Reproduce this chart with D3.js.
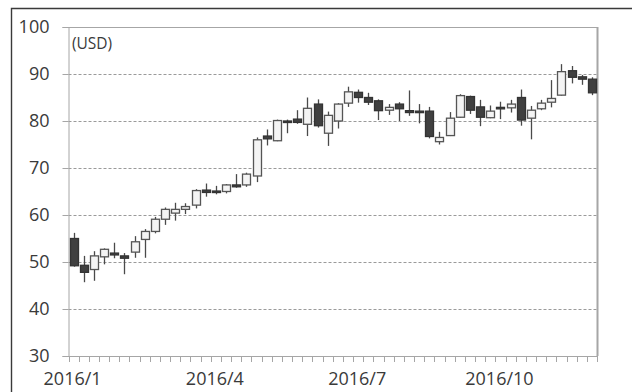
<!DOCTYPE html>
<html>
<head>
<meta charset="utf-8">
<script src="https://cdn.jsdelivr.net/npm/d3@7"></script>
<style>
  html, body { margin: 0; padding: 0; background: #fff; }
  svg { display: block; }
  text { font-family: "Open Sans", "Noto Sans", sans-serif; fill: #3a3a3a; }
</style>
</head>
<body>
<svg id="chart" width="632" height="392"></svg>
<script>
// Weekly candles, 2016 (week starting dates)
const weeks = [
  "2016/01/04","2016/01/11","2016/01/18","2016/01/25",
  "2016/02/01","2016/02/08","2016/02/15","2016/02/22","2016/02/29",
  "2016/03/07","2016/03/14","2016/03/21","2016/03/28",
  "2016/04/04","2016/04/11","2016/04/18","2016/04/25",
  "2016/05/02","2016/05/09","2016/05/16","2016/05/23","2016/05/30",
  "2016/06/06","2016/06/13","2016/06/20","2016/06/27",
  "2016/07/04","2016/07/11","2016/07/18","2016/07/25",
  "2016/08/01","2016/08/08","2016/08/15","2016/08/22","2016/08/29",
  "2016/09/05","2016/09/12","2016/09/19","2016/09/26",
  "2016/10/03","2016/10/10","2016/10/17","2016/10/24","2016/10/31",
  "2016/11/07","2016/11/14","2016/11/21","2016/11/28",
  "2016/12/05","2016/12/12","2016/12/19","2016/12/26"
];

const openPrices = [
  55.0, 49.3, 48.4, 51.1, 51.9, 51.3, 52.1, 54.8, 56.5, 59.1, 60.4, 61.2, 62.1,
  65.3, 65.1, 65.0, 66.4, 66.4, 68.3, 76.8, 75.8, 80.0, 80.4, 79.3, 83.6, 77.4,
  80.0, 83.8, 86.1, 85.0, 84.3, 82.3, 83.6, 82.2, 82.1, 82.1, 75.6, 76.9, 80.8,
  85.2, 83.0, 80.7, 82.9, 82.8, 85.0, 80.6, 82.6, 84.0, 85.5, 90.7, 89.4, 88.9
];
const highPrices = [
  56.2, 51.3, 52.3, 52.9, 54.1, 51.9, 55.5, 57.0, 59.6, 61.6, 62.6, 62.5, 65.5,
  66.7, 66.2, 66.6, 68.7, 69.0, 76.5, 78.2, 80.3, 80.3, 82.3, 85.0, 84.6, 82.0,
  83.8, 87.3, 86.7, 86.0, 84.6, 83.6, 84.0, 86.5, 83.6, 83.0, 77.7, 81.9, 85.7,
  85.4, 84.5, 83.3, 84.1, 84.5, 86.7, 83.2, 84.5, 88.7, 92.1, 91.7, 89.8, 89.3
];
const lowPrices = [
  49.0, 45.7, 46.0, 49.5, 50.8, 47.4, 50.9, 50.9, 56.1, 57.9, 58.8, 60.2, 61.4,
  63.9, 64.4, 64.6, 65.8, 66.0, 67.0, 74.8, 75.7, 77.4, 79.4, 76.8, 78.6, 74.7,
  78.4, 83.0, 83.9, 83.4, 80.2, 81.3, 80.0, 81.1, 79.5, 76.3, 75.0, 76.8, 80.7,
  81.5, 78.9, 80.6, 80.4, 81.8, 79.0, 76.1, 82.3, 82.9, 85.4, 88.0, 87.7, 85.5
];
const closePrices = [
  49.2, 47.8, 51.3, 52.7, 51.5, 50.8, 54.3, 56.5, 59.1, 61.2, 61.2, 61.8, 65.2,
  64.8, 64.9, 66.4, 66.0, 68.7, 76.0, 76.2, 80.1, 79.8, 79.7, 82.7, 79.0, 81.2,
  83.6, 86.2, 85.0, 84.0, 82.2, 82.9, 82.6, 81.8, 81.8, 76.7, 76.5, 80.6, 85.4,
  82.3, 80.8, 82.1, 82.7, 83.6, 80.2, 82.3, 83.8, 84.8, 90.5, 89.3, 88.9, 86.0
];

// Axis labels
const yTicks = [30, 40, 50, 60, 70, 80, 90, 100];
const xTickWeeks = ["2016/01/04", "2016/04/11", "2016/07/18", "2016/10/24"];
const xTickLabels = ["2016/1", "2016/4", "2016/7", "2016/10"];
const unitLabel = "(USD)";

const candles = weeks.map((w, i) => ({
  week: w, open: openPrices[i], high: highPrices[i], low: lowPrices[i], close: closePrices[i]
}));

const svg = d3.select("#chart");
const plot = { left: 68.5, right: 597, top: 27, bottom: 356 };

svg.append("rect").attr("width", 632).attr("height", 392).attr("fill", "#fff");

// Outer frame (left and top edges)
svg.append("path")
  .attr("d", "M11.5,392 V8.5 H632")
  .attr("fill", "none")
  .attr("stroke", "#3a3a3a")
  .attr("stroke-width", 1.4);

const x = d3.scaleBand().domain(weeks).range([plot.left, plot.right]).padding(0);
const y = d3.scaleLinear().domain([30, 100]).range([plot.bottom, plot.top]);

// Dashed gridlines
svg.append("g")
  .selectAll("line")
  .data(yTicks.filter(v => v > 30 && v < 100))
  .join("line")
  .attr("x1", plot.left).attr("x2", plot.right)
  .attr("y1", d => Math.round(y(d)) + 0.5).attr("y2", d => Math.round(y(d)) + 0.5)
  .attr("stroke", "#9a9a9a")
  .attr("stroke-width", 1)
  .attr("stroke-dasharray", "3,2");

// Plot border: top and right
svg.append("line")
  .attr("x1", plot.left).attr("x2", plot.right)
  .attr("y1", y(100) + 0.5).attr("y2", y(100) + 0.5)
  .attr("stroke", "#a6a6a6").attr("stroke-width", 1);
svg.append("line")
  .attr("x1", plot.right + 0.5).attr("x2", plot.right + 0.5)
  .attr("y1", y(100)).attr("y2", y(30))
  .attr("stroke", "#a6a6a6").attr("stroke-width", 2);

// Y axis
const yAxis = d3.axisLeft(y).tickValues(yTicks).tickSize(6).tickPadding(13);
const gy = svg.append("g").attr("transform", `translate(${plot.left},0)`).call(yAxis);
gy.select(".domain").attr("stroke", "#a6a6a6");
gy.selectAll(".tick line").attr("stroke", "#a6a6a6");
gy.selectAll(".tick text")
  .attr("font-size", 18)
  .attr("font-family", "'Open Sans', sans-serif")
  .attr("fill", "#3a3a3a");

// X axis: baseline with tick marks at every week boundary
const boundaries = weeks.map(w => x(w)).concat([x(weeks[weeks.length - 1]) + x.bandwidth()]);
const gx = svg.append("g");
gx.append("line")
  .attr("x1", plot.left).attr("x2", plot.right)
  .attr("y1", plot.bottom + 0.5).attr("y2", plot.bottom + 0.5)
  .attr("stroke", "#a6a6a6");
gx.selectAll("line.tk")
  .data(boundaries)
  .join("line")
  .attr("class", "tk")
  .attr("x1", d => Math.round(d) + 0.5).attr("x2", d => Math.round(d) + 0.5)
  .attr("y1", plot.bottom).attr("y2", plot.bottom + 6)
  .attr("stroke", "#a6a6a6");

// X labels centred on their weeks
const xAxis = d3.axisBottom(x)
  .tickValues(xTickWeeks)
  .tickFormat(d => xTickLabels[xTickWeeks.indexOf(d)])
  .tickSize(0)
  .tickPadding(16);
const gxl = svg.append("g").attr("transform", `translate(-1,${plot.bottom})`).call(xAxis);
gxl.select(".domain").remove();
gxl.selectAll(".tick text")
  .attr("font-size", 18)
  .attr("font-family", "'Open Sans', sans-serif")
  .attr("fill", "#3a3a3a");

// Unit label
svg.append("text")
  .attr("x", 72).attr("y", 49)
  .attr("font-size", 15.5)
  .text(unitLabel);

// Candles
const bodyW = Math.round(x.bandwidth() * 0.8);
const g = svg.append("g");
const c = g.selectAll("g.candle").data(candles).join("g").attr("class", "candle");

c.append("line")
  .attr("x1", d => Math.round(x(d.week) + x.bandwidth() / 2) + 0.5)
  .attr("x2", d => Math.round(x(d.week) + x.bandwidth() / 2) + 0.5)
  .attr("y1", d => y(d.high))
  .attr("y2", d => y(d.low))
  .attr("stroke", "#4a4a4a")
  .attr("stroke-width", 1.3);

c.append("rect")
  .attr("x", d => Math.round(x(d.week) + x.bandwidth() / 2) + 0.5 - bodyW / 2)
  .attr("width", bodyW)
  .attr("y", d => y(Math.max(d.open, d.close)))
  .attr("height", d => Math.max(1.5, Math.abs(y(d.open) - y(d.close))))
  .attr("fill", d => d.close < d.open ? "#404040" : "#f4f4f4")
  .attr("stroke", d => d.close < d.open ? "#333333" : "#555555")
  .attr("stroke-width", 1.3);
</script>
</body>
</html>
